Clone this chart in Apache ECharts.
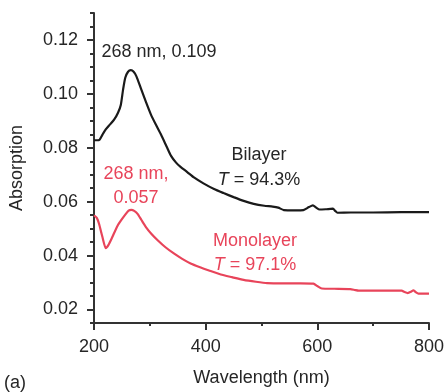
<!DOCTYPE html>
<html>
<head>
<meta charset="utf-8">
<script src="https://cdn.jsdelivr.net/npm/echarts@6/dist/echarts.min.js"></script>
<style>html,body{margin:0;padding:0;background:#fff;}#c{width:447px;height:392px;}</style>
</head>
<body>
<div id="c"></div>
<script>
const bilayerX = [200,205,210,215,221,228,236,243,248,252,256,261,266,271,276,284,293,302,311,320,330,338,347,355,367,379,396,415,432,450,468,486,505,520,530,540,560,575,585,592,598,604,615,628,632,636,660,700,750,800];
const bilayerY = [0.0828,0.0828,0.0830,0.0848,0.0868,0.0885,0.0904,0.0930,0.0959,0.1015,0.1060,0.1082,0.1088,0.1082,0.1065,0.1020,0.0970,0.0923,0.0885,0.0849,0.0805,0.0770,0.0745,0.0729,0.0710,0.0690,0.0668,0.0647,0.0632,0.0617,0.0603,0.0592,0.0585,0.0582,0.0578,0.0569,0.0568,0.0569,0.0580,0.0586,0.0578,0.0571,0.0572,0.0574,0.0566,0.0559,0.0560,0.0560,0.0561,0.0561];
const monolayerX = [200,205,209,215,221,226,232,242,250,256,262,267,272,278,285,293,303,314,328,343,358,373,390,406,427,447,468,490,510,540,570,593,600,608,630,659,668,674,720,751,756,762,768,772,776,781,800];
const monolayerY = [0.0549,0.0540,0.0518,0.0470,0.0428,0.0440,0.0465,0.0510,0.0535,0.0552,0.0567,0.0570,0.0566,0.0555,0.0532,0.0506,0.0480,0.0457,0.0431,0.0408,0.0388,0.0371,0.0357,0.0345,0.0330,0.0320,0.0310,0.0303,0.0298,0.0297,0.0297,0.0296,0.0287,0.0278,0.0277,0.0276,0.0272,0.0270,0.0270,0.0270,0.0265,0.0261,0.0266,0.0271,0.0265,0.0259,0.0259];
const yMajorTicks = [0.02,0.04,0.06,0.08,0.10,0.12];
const xTicks = [200,400,600,800];

const FONT = 'Liberation Sans';
const FS = 18;
const TXT = '#262626';
const RED = '#e8445a';

const chart = echarts.init(document.getElementById('c'));
chart.setOption({
  animation: false,
  grid: {left: 93, right: 18, top: 13, bottom: 65},
  xAxis: {
    type: 'value', min: 200, max: 800, interval: 200,
    name: 'Wavelength (nm)', nameLocation: 'middle', nameGap: 46,
    nameTextStyle: {fontFamily: FONT, fontSize: FS, color: TXT},
    axisLine: {lineStyle: {color: '#333', width: 2}},
    axisTick: {length: 7, lineStyle: {color: '#333', width: 2}},
    minorTick: {show: true, splitNumber: 2, length: 3, lineStyle: {color: '#333', width: 2}},
    axisLabel: {fontFamily: FONT, fontSize: FS, color: TXT, margin: 15},
    splitLine: {show: false}
  },
  yAxis: [{
    type: 'value', min: 0.015, max: 0.13,
    name: 'Absorption', nameLocation: 'middle', nameGap: 68,
    nameTextStyle: {fontFamily: FONT, fontSize: FS, color: TXT},
    axisLine: {show: true, lineStyle: {color: '#333', width: 2}},
    axisTick: {show: true, length: 7, customValues: yMajorTicks, lineStyle: {color: '#333', width: 2}},
    axisLabel: {fontFamily: FONT, fontSize: FS, color: TXT, margin: 16, customValues: yMajorTicks,
      formatter: v => v.toFixed(2)},
    splitLine: {show: false}
  }, {
    type: 'value', min: 0.015, max: 0.13, interval: 0.005, position: 'left',
    axisLine: {show: false},
    axisTick: {show: true, length: 4, lineStyle: {color: '#333', width: 2}},
    axisLabel: {show: false},
    splitLine: {show: false}
  }],
  series: [{
    name: 'Bilayer', type: 'line', showSymbol: false, smooth: 0.2,
    lineStyle: {color: '#1a1a1a', width: 2.2},
    data: bilayerX.map((x, i) => [x, bilayerY[i]])
  }, {
    name: 'Monolayer', type: 'line', showSymbol: false, smooth: 0.2,
    lineStyle: {color: RED, width: 2.2},
    data: monolayerX.map((x, i) => [x, monolayerY[i]])
  }],
  graphic: [
    {type: 'text', x: 159, y: 52, style: {text: '268 nm, 0.109', fontFamily: FONT, fontSize: FS, fill: TXT, align: 'center', verticalAlign: 'middle'}},
    {type: 'text', x: 136, y: 174, style: {text: '268 nm,', fontFamily: FONT, fontSize: FS, fill: RED, align: 'center', verticalAlign: 'middle'}},
    {type: 'text', x: 136, y: 198, style: {text: '0.057', fontFamily: FONT, fontSize: FS, fill: RED, align: 'center', verticalAlign: 'middle'}},
    {type: 'text', x: 259, y: 155, style: {text: 'Bilayer', fontFamily: FONT, fontSize: FS, fill: TXT, align: 'center', verticalAlign: 'middle'}},
    {type: 'text', x: 259, y: 180, style: {text: '{i|T} = 94.3%', fontFamily: FONT, fontSize: FS, fill: TXT, align: 'center', verticalAlign: 'middle',
      rich: {i: {fontStyle: 'italic', fontFamily: FONT, fontSize: FS, fill: TXT}}}},
    {type: 'text', x: 255, y: 241, style: {text: 'Monolayer', fontFamily: FONT, fontSize: FS, fill: RED, align: 'center', verticalAlign: 'middle'}},
    {type: 'text', x: 255, y: 265, style: {text: '{i|T} = 97.1%', fontFamily: FONT, fontSize: FS, fill: RED, align: 'center', verticalAlign: 'middle',
      rich: {i: {fontStyle: 'italic', fontFamily: FONT, fontSize: FS, fill: RED}}}},
    {type: 'text', x: 4, y: 383, style: {text: '(a)', fontFamily: FONT, fontSize: FS, fill: TXT, align: 'left', verticalAlign: 'middle'}}
  ]
});
</script>
</body>
</html>
